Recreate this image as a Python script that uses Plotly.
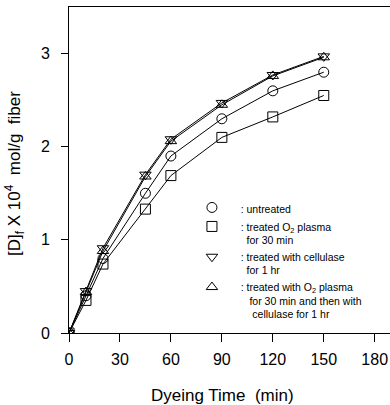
import plotly.graph_objects as go

time_min = [0, 10, 20, 45, 60, 90, 120, 150]
untreated = [0, 0.40, 0.80, 1.50, 1.90, 2.30, 2.60, 2.80]
o2_plasma = [0, 0.35, 0.74, 1.33, 1.69, 2.10, 2.32, 2.55]
cellulase = [0, 0.45, 0.91, 1.70, 2.08, 2.47, 2.77, 2.97]
o2_cellulase = [0, 0.44, 0.88, 1.68, 2.06, 2.45, 2.76, 2.96]

x_ticks = [0, 30, 60, 90, 120, 150, 180]
y_ticks = [0, 1, 2, 3]

sp = "&nbsp;" * 3
series = [
    (untreated, "circle-open", sp + ": untreated"),
    (o2_plasma, "square-open", sp + ": treated O<sub>2</sub> plasma<br>" + sp + "&nbsp;&nbsp;for 30 min"),
    (cellulase, "triangle-down-open", sp + ": treated with cellulase<br>" + sp + "&nbsp;&nbsp;for 1 hr"),
    (o2_cellulase, "triangle-up-open", sp + ": treated with O<sub>2</sub> plasma<br>" + sp + "&nbsp;&nbsp;&nbsp;for 30 min and then with<br>" + sp + "&nbsp;&nbsp;&nbsp;&nbsp;cellulase for 1 hr"),
]

font = "Liberation Sans, Arial, Helvetica, sans-serif"
fig = go.Figure()
for vals, sym, name in series:
    fig.add_trace(go.Scatter(x=time_min, y=vals, mode="lines", showlegend=False,
                             line=dict(color="black", width=1)))
for vals, sym, name in series:
    fig.add_trace(go.Scatter(x=time_min, y=vals, mode="markers", name=name,
                             marker=dict(symbol=sym, size=10, color="black",
                                         line=dict(color="black", width=1))))

fig.update_layout(
    width=390, height=405,
    margin=dict(l=69, r=0, t=7, b=72, autoexpand=False),
    paper_bgcolor="white", plot_bgcolor="white",
    font=dict(family=font, color="black"),
    legend=dict(x=0.383, y=0.426, xanchor="left", yanchor="top",
                bgcolor="rgba(0,0,0,0)", font=dict(size=10.5, family=font),
                valign="top", itemwidth=30),
    xaxis=dict(range=[0, 189], tickvals=x_ticks, ticks="outside", ticklen=8,
               tickcolor="black", showline=True, linecolor="black", linewidth=1,
               mirror=True, showgrid=False, zeroline=False, automargin=False,
               tickfont=dict(size=16), ticklabelstandoff=4),
    yaxis=dict(range=[0, 3.5], tickvals=y_ticks, ticks="outside", ticklen=7,
               tickcolor="black", showline=True, linecolor="black", linewidth=1,
               showgrid=False, zeroline=False, automargin=False,
               tickfont=dict(size=16), ticklabelstandoff=8),
    annotations=[
        dict(text="Dyeing Time&nbsp;&nbsp;(min)", x=(222 - 69) / 321, y=(333 - 395) / 326,
             xref="paper", yref="paper",
             showarrow=False, font=dict(size=17), xanchor="center", yanchor="middle"),
        dict(text="[D]<sub>f</sub> X 10<sup>4</sup>&nbsp;&nbsp;mol/g&nbsp;&nbsp;fiber",
             x=(15 - 69) / 321, y=(333 - 174) / 326,
             xref="paper", yref="paper", showarrow=False, textangle=-90,
             font=dict(size=17), xanchor="center", yanchor="middle"),
    ],
)
fig.write_html("out.html", post_script="document.body.style.margin='0';",
               config={"displayModeBar": False})
